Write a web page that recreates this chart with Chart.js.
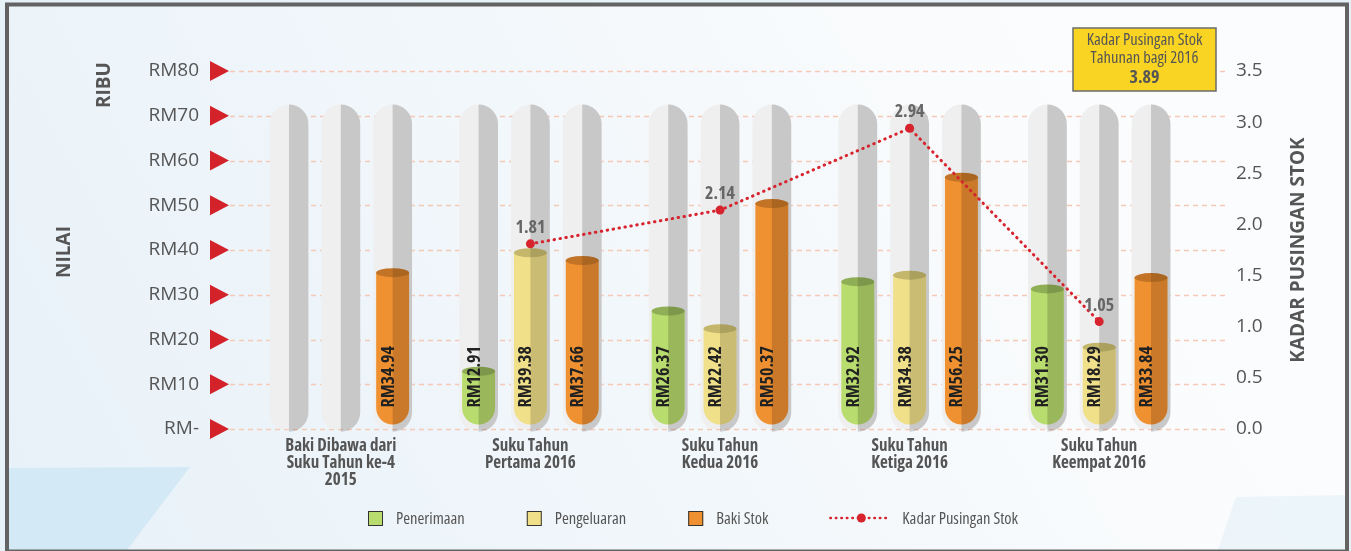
<!DOCTYPE html>
<html>
<head>
<meta charset="utf-8">
<title>Kadar Pusingan Stok 2016</title>
<script src="https://cdn.jsdelivr.net/npm/chart.js@4.4.1/dist/chart.umd.min.js"></script>
<style>
  html, body { margin: 0; padding: 0; background: #e8f2f8; }
  #myChartDiv { width: 1351px; height: 551px; }
</style>
</head>
<body>
<div id="myChartDiv"><canvas id="myChart" width="1351" height="551"></canvas></div>
<script>
// ---- data ----
const categories = [
  ["Baki Dibawa dari", "Suku Tahun ke-4", "2015"],
  ["Suku Tahun", "Pertama 2016"],
  ["Suku Tahun", "Kedua 2016"],
  ["Suku Tahun", "Ketiga 2016"],
  ["Suku Tahun", "Keempat 2016"],
];
const penerimaan = [null, 12.91, 26.37, 32.92, 31.30];
const pengeluaran = [null, 39.38, 22.42, 34.38, 18.29];
const bakiStok = [34.94, 37.66, 50.37, 56.25, 33.84];
const kadarPusingan = [null, 1.81, 2.14, 2.94, 1.05];
const nilaiTicks = [0, 10, 20, 30, 40, 50, 60, 70, 80];
const kadarTicks = [0, 0.5, 1, 1.5, 2, 2.5, 3, 3.5];
const kadarTahunan = 3.89;

// Open Sans with fontStretch "condensed" gives the narrow look of the original
const COND = "'Open Sans', sans-serif";
const SANS = "'Open Sans', 'Noto Sans', sans-serif";
const TUBE_TOP = 72.5; // grey tube behind each bar

const tubes = categories.map(() => TUBE_TOP);

// the font setter drops the stretch, so set it after the font (toggle to force it)
function condFont(ctx, font) {
  ctx.font = font;
  ctx.fontStretch = "normal";
  ctx.fontStretch = "condensed";
}

function barSet(label, data, color, cap, stack) {
  return {
    label: label, data: data, stack: stack, order: 1,
    backgroundColor: color, capColor: cap, legendColor: color,
    base: 1, barPercentage: 0.635, categoryPercentage: 0.82,
    borderSkipped: false,
    borderRadius: { topLeft: 0, topRight: 0, bottomLeft: 17, bottomRight: 17 },
  };
}
function tubeSet(stack) {
  return {
    label: "tube", data: tubes, stack: stack, order: 2, tube: true,
    backgroundColor: "#efefef", base: -0.6,
    barPercentage: 0.75, categoryPercentage: 0.82,
    borderSkipped: false, borderRadius: 20,
  };
}

const datasets = [
  {
    type: "line", label: "Kadar Pusingan Stok", data: kadarPusingan, yAxisID: "y2", order: 0,
    borderColor: "#d7232d", borderWidth: 3, borderDash: [0.5, 5.5], borderCapStyle: "round",
    pointRadius: 4.5, pointBackgroundColor: "#d7232d", pointBorderWidth: 0, legendColor: "#d7232d",
  },
  barSet("Penerimaan", penerimaan, "#b8dc6d", "#8fae56", "s0"),
  barSet("Pengeluaran", pengeluaran, "#f1e08a", "#c4b76c", "s1"),
  barSet("Baki Stok", bakiStok, "#f09131", "#c27326", "s2"),
  tubeSet("s0"), tubeSet("s1"), tubeSet("s2"),
];

function barBox(el) {
  const p = el.getProps(["x", "y", "base", "width"], true);
  return { left: p.x - p.width / 2, top: Math.min(p.y, p.base), w: p.width, h: Math.abs(p.base - p.y), x: p.x };
}

const decor = {
  id: "decor",
  beforeDraw(chart) {
    const ctx = chart.ctx;
    const W = chart.width, H = chart.height;
    ctx.fontStretch = "normal";
    ctx.save();
    ctx.fillStyle = "#e6f1f8";
    ctx.fillRect(0, 0, W, H);
    const g = ctx.createLinearGradient(10, H, W * 0.75, 0);
    g.addColorStop(0, "#e7f1f8");
    g.addColorStop(1, "#fbfcfd");
    ctx.fillStyle = g;
    ctx.fillRect(7, 4, W - 11, H - 5);
    // decorative shapes
    ctx.fillStyle = "#d3eaf6";
    ctx.beginPath();
    ctx.moveTo(7, 468); ctx.lineTo(190, 467); ctx.lineTo(127, 550); ctx.lineTo(7, 550);
    ctx.fill();
    ctx.fillStyle = "rgba(226,240,246,0.6)";
    ctx.beginPath();
    ctx.moveTo(1236, 497); ctx.lineTo(1346, 495); ctx.lineTo(1346, 550); ctx.lineTo(1218, 550);
    ctx.fill();
    // frame
    ctx.strokeStyle = "#636363";
    ctx.lineWidth = 4;
    ctx.strokeRect(7, 4.5, W - 11, H - 4);

    // grid lines + red markers
    const y = chart.scales.y;
    ctx.setLineDash([5, 4]);
    ctx.lineWidth = 1.5;
    ctx.strokeStyle = "#f6c8b6";
    y.ticks.forEach(t => {
      const py = Math.round(y.getPixelForValue(t.value)) + 0.5;
      ctx.beginPath(); ctx.moveTo(230, py); ctx.lineTo(1225, py); ctx.stroke();
    });
    ctx.setLineDash([]);
    ctx.fillStyle = "#d3222a";
    y.ticks.forEach(t => {
      const py = y.getPixelForValue(t.value);
      ctx.beginPath(); ctx.moveTo(210, py - 10); ctx.lineTo(229, py); ctx.lineTo(210, py + 10); ctx.fill();
    });

    // axis titles
    ctx.fillStyle = "#555";
    ctx.font = "bold 19px " + SANS;
    ctx.textAlign = "center"; ctx.textBaseline = "middle";
    [["RIBU", 105, 85], ["NILAI", 65, 252], ["KADAR PUSINGAN STOK", 1299, 250]].forEach(a => {
      ctx.save(); ctx.translate(a[1], a[2]); ctx.rotate(-Math.PI / 2); ctx.fillText(a[0], 0, 0); ctx.restore();
    });

    // annual rate box
    ctx.fillStyle = "#f9d423";
    ctx.fillRect(1073, 28, 143, 63);
    ctx.strokeStyle = "#6b6b6b"; ctx.lineWidth = 1.5;
    ctx.strokeRect(1073, 28, 143, 63);
    ctx.fillStyle = "#555"; ctx.textBaseline = "alphabetic";
    condFont(ctx, "16.5px " + COND);
    ctx.fillText("Kadar Pusingan Stok", 1144.5, 45);
    ctx.fillText("Tahunan bagi 2016", 1144.5, 63);
    condFont(ctx, "bold 18px " + COND);
    ctx.fillText(kadarTahunan.toFixed(2), 1144.5, 83);

    // legend
    let lx = 368;
    const ly = 518;
    condFont(ctx, "16.5px " + COND);
    ctx.textAlign = "left"; ctx.textBaseline = "middle";
    chart.data.datasets.filter(d => d.legendColor).sort((a, b) => (a.type === "line") - (b.type === "line")).forEach(d => {
      if (d.type === "line") {
        ctx.strokeStyle = d.legendColor; ctx.lineWidth = 2.5; ctx.lineCap = "round";
        ctx.setLineDash([0.5, 5]);
        ctx.beginPath(); ctx.moveTo(lx, ly); ctx.lineTo(lx + 60, ly); ctx.stroke();
        ctx.setLineDash([]); ctx.lineCap = "butt";
        ctx.fillStyle = d.legendColor;
        ctx.beginPath(); ctx.arc(lx + 31, ly, 4.5, 0, Math.PI * 2); ctx.fill();
        lx += 72;
      } else {
        ctx.fillStyle = d.legendColor;
        ctx.fillRect(lx, ly - 7, 15, 15);
        ctx.strokeStyle = "#333"; ctx.lineWidth = 1;
        ctx.strokeRect(lx + 0.5, ly - 6.5, 14, 14);
        lx += 28;
      }
      ctx.fillStyle = "#555";
      ctx.fillText(d.label, lx, ly + 1);
      lx += ctx.measureText(d.label).width + 62;
    });
    ctx.restore();
    ctx.fontStretch = "normal";
  },
  afterDatasetDraw(chart, args) {
    const ds = chart.data.datasets[args.index];
    if (ds.type === "line") return;
    const ctx = chart.ctx;
    args.meta.data.forEach((el, i) => {
      if (ds.data[i] === null || ds.data[i] === undefined) return;
      const b = barBox(el);
      if (!isFinite(b.top) || !isFinite(b.h)) return;
      const r = Math.min(b.w / 2, b.h / 2);
      ctx.save();
      ctx.beginPath();
      if (ds.tube) ctx.roundRect(b.left, b.top, b.w, b.h, r);
      else ctx.roundRect(b.left, b.top, b.w, b.h, [0, 0, r, r]);
      ctx.clip();
      ctx.fillStyle = "rgba(0,0,0,0.16)";
      ctx.fillRect(b.x, b.top - 1, b.w / 2 + 1, b.h + 2);
      ctx.restore();
      if (!ds.tube) {
        ctx.save();
        ctx.beginPath();
        ctx.ellipse(b.x, b.top, b.w / 2, 4.5, 0, 0, Math.PI * 2);
        ctx.fillStyle = ds.capColor;
        ctx.fill();
        ctx.clip();
        ctx.fillStyle = "rgba(0,0,0,0.12)";
        ctx.fillRect(b.x, b.top - 6, b.w / 2 + 1, 12);
        ctx.restore();
      }
    });
  },
  afterDatasetsDraw(chart) {
    const ctx = chart.ctx;
    ctx.save();
    chart.data.datasets.forEach((ds, di) => {
      const meta = chart.getDatasetMeta(di);
      if (ds.tube) return;
      if (ds.type === "line") {
        ctx.fillStyle = "#666"; condFont(ctx, "bold 18px " + COND);
        ctx.textAlign = "center"; ctx.textBaseline = "alphabetic";
        meta.data.forEach((el, i) => {
          if (ds.data[i] === null) return;
          ctx.fillText(ds.data[i].toFixed(2), el.x, el.y - 11);
        });
        return;
      }
      ctx.fillStyle = "#222"; condFont(ctx, "bold 18px " + COND);
      ctx.textAlign = "left"; ctx.textBaseline = "alphabetic";
      meta.data.forEach((el, i) => {
        if (ds.data[i] === null) return;
        const p = el.getProps(["x", "base"], true);
        ctx.save();
        ctx.translate(p.x + 1, p.base - 17);
        ctx.rotate(-Math.PI / 2);
        ctx.fillText("RM" + ds.data[i].toFixed(2), 0, 0);
        ctx.restore();
      });
    });
    ctx.restore();
    // x-axis labels are drawn after the datasets (ticks.z = 1): preset the same
    // font string so Chart.js keeps the condensed face when it sets it again
    condFont(ctx, chart.scales.x._resolveTickFontOptions(0).string);
  },
  afterDraw(chart) {
    chart.ctx.fontStretch = "normal";
  },
};

const config = {
  type: "bar",
  data: { labels: categories, datasets: datasets },
  options: {
    responsive: false,
    animation: false,
    layout: { padding: { top: 71, left: 0, right: 0, bottom: 0 } },
    plugins: { legend: { display: false }, tooltip: { enabled: false } },
    scales: {
      x: {
        grid: { display: false, drawTicks: false },
        border: { display: false },
        ticks: {
          z: 1, autoSkip: false, maxRotation: 0, padding: 9, color: "#555",
          font: { family: COND, size: 17, weight: "bold", lineHeight: 1 },
        },
        afterFit: (s) => { s.height = 122; },
      },
      y: {
        position: "left", stacked: false, min: 0, max: 80,
        grid: { display: false, drawTicks: false },
        border: { display: false },
        afterBuildTicks: (s) => { s.ticks = nilaiTicks.map(v => ({ value: v })); },
        ticks: {
          padding: 47, color: "#555", font: { family: SANS, size: 19 },
          callback: (value) => (value === 0 ? "RM-" : `RM${value}`),
        },
        afterFit: (s) => { s.width = 246; },
      },
      y2: {
        position: "right", min: 0, max: 3.5,
        grid: { display: false, drawTicks: false },
        border: { display: false },
        afterBuildTicks: (s) => { s.ticks = kadarTicks.map(v => ({ value: v })); },
        ticks: {
          padding: 42, color: "#555", font: { family: SANS, size: 19 },
          callback: (value) => Number(value).toFixed(1),
        },
        afterFit: (s) => { s.width = 157; },
      },
    },
  },
  plugins: [decor],
};

const myChart = new Chart(document.getElementById("myChart"), config);
</script>
</body>
</html>
